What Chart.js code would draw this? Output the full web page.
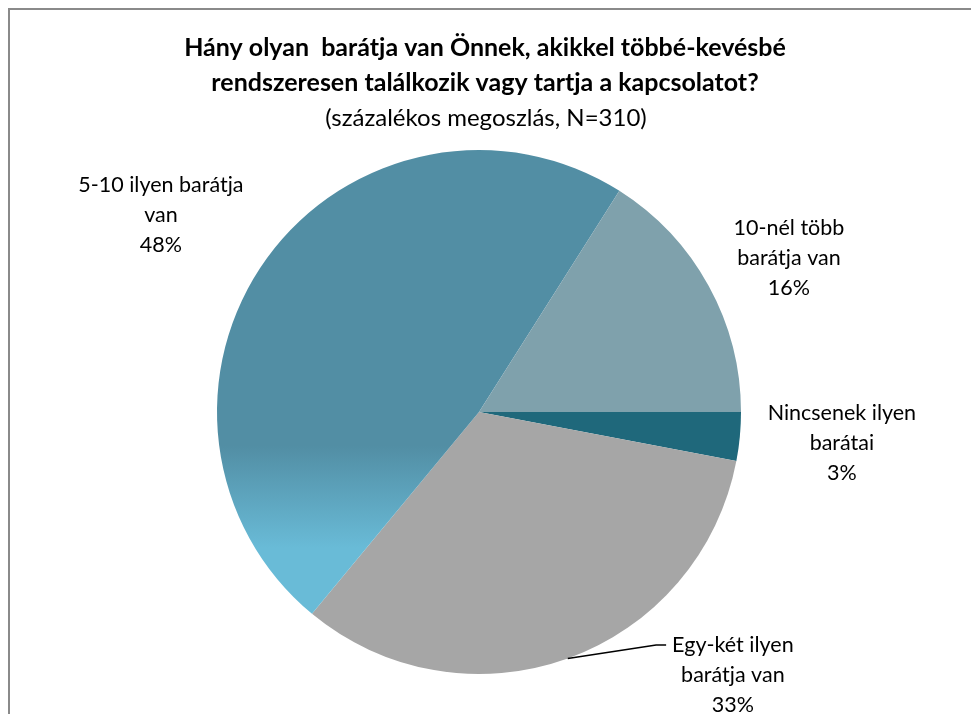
<!DOCTYPE html>
<html>
<head>
<meta charset="utf-8">
<script src="https://cdn.jsdelivr.net/npm/chart.js@4.4.0/dist/chart.umd.min.js"></script>
<style>
  html, body { margin: 0; padding: 0; background: #fff; }
  #wrap { position: relative; width: 971px; height: 714px; }
</style>
</head>
<body>
<div id="wrap"><canvas id="pieChart" width="971" height="714"></canvas></div>
<script>
// data
const categories = [
    ['Nincsenek ilyen', 'barátai'],
    ['Egy-két ilyen', 'barátja van'],
    ['5-10 ilyen barátja', 'van'],
    ['10-nél több', 'barátja van']
]
const percents = [3, 33, 48, 16]
const titleLines = ['Hány olyan  barátja van Önnek, akikkel többé-kevésbé', 'rendszeresen találkozik vagy tartja a kapcsolatot?']
const subtitleText = '(százalékos megoszlás, N=310)'

// label placement, relative to the pie centre in units of the radius
const labelOffsets = [[1.385, 0.118], [0.969, 1.004], [-1.214, -0.752], [1.183, -0.588]]
const leaderLines = [false, true, false, false]

const FONT = 'Lato, "Open Sans", sans-serif'

function sliceColor(ctx){
    const i = ctx.dataIndex
    if(i === 2){
        const area = ctx.chart.chartArea
        if(!area) return '#528EA4'
        const cy = (area.top + area.bottom) / 2
        const r = (area.bottom - area.top) / 2
        const g = ctx.chart.ctx.createLinearGradient(0, cy + r * 0.13, 0, cy + r * 0.52)
        g.addColorStop(0, '#528EA4')
        g.addColorStop(1, '#69BBD7')
        return g
    }
    return ['#1F687B', '#A6A6A6', '#528EA4', '#7FA1AC'][i]
}

const decorations = {
    id: 'decorations',
    beforeDraw(chart){
        const c = chart.ctx
        c.save()
        // frame (top and left edge only visible)
        c.strokeStyle = '#8A8A8A'
        c.lineWidth = 2
        c.beginPath()
        c.moveTo(9, 714)
        c.lineTo(9, 9)
        c.lineTo(971, 9)
        c.stroke()
        // title
        c.fillStyle = '#000'
        c.textAlign = 'center'
        c.textBaseline = 'middle'
        c.font = 'bold 25px ' + FONT
        c.fillText(titleLines[0], 485, 48)
        c.fillText(titleLines[1], 485, 83)
        c.font = '24px ' + FONT
        c.fillText(subtitleText, 486, 118)
        c.restore()
    },
    afterDraw(chart){
        const c = chart.ctx
        const meta = chart.getDatasetMeta(0)
        c.save()
        c.fillStyle = '#000'
        c.font = '21.5px ' + FONT
        c.textAlign = 'center'
        c.textBaseline = 'middle'
        meta.data.forEach((arc, i) => {
            const r = arc.outerRadius
            const lx = arc.x + labelOffsets[i][0] * r
            const ly = arc.y + labelOffsets[i][1] * r
            const lines = categories[i].concat([percents[i] + '%'])
            const lh = 30
            const top = ly - lh * (lines.length - 1) / 2
            lines.forEach((t, k) => c.fillText(t, lx, top + k * lh))
            if(leaderLines[i]){
                const mid = (arc.startAngle + arc.endAngle) / 2
                const sx = arc.x + Math.cos(mid) * r
                const sy = arc.y + Math.sin(mid) * r
                const w = c.measureText(lines[0]).width
                const ex = lx - w / 2 - 6
                c.strokeStyle = '#000'
                c.lineWidth = 1.5
                c.beginPath()
                c.moveTo(sx, sy)
                c.lineTo(ex - 10, top)
                c.lineTo(ex, top)
                c.stroke()
            }
        })
        c.restore()
    }
}

const ctx = document.getElementById('pieChart').getContext('2d')
const myChart = new Chart(ctx, {
    type: 'pie',
    data: {
        labels: categories,
        datasets: [{
            data: percents,
            backgroundColor: sliceColor,
            borderWidth: 0
        }]
    },
    options: {
        responsive: false,
        animation: false,
        rotation: 90,
        layout: {
            padding: { top: 150, bottom: 40, left: 217, right: 230 }
        },
        plugins: {
            legend: { display: false },
            title: { display: false },
            tooltip: { enabled: false }
        }
    },
    plugins: [decorations]
})
</script>
</body>
</html>
